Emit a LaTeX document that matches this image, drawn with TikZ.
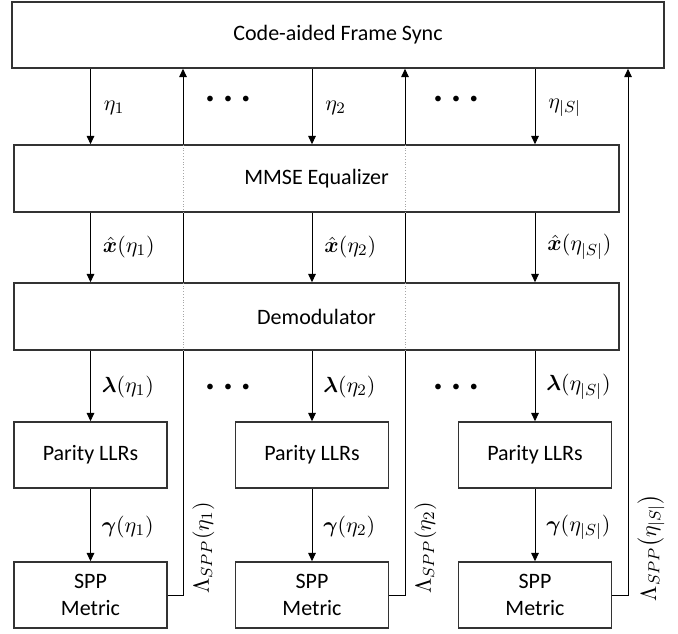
\documentclass[tikz,border=0pt]{standalone}
\usepackage{amsmath,bm}
\usepackage{fontspec}
\setmainfont{Carlito}
\usetikzlibrary{arrows.meta}
\begin{document}
\begin{tikzpicture}[x=0.5pt,y=-0.5pt,
  font=\fontsize{11}{13.5}\selectfont,
  box/.style={draw=black!80, line width=0.75pt, inner sep=0pt, align=center},
  wide/.style={box, minimum width=302.5pt, minimum height=33.5pt},
  small/.style={box, minimum width=76.5pt, minimum height=33pt},
  arr/.style={-{Triangle[length=4.2pt,width=3.8pt]}, line width=0.5pt},
  wire/.style={line width=0.5pt},
  hidden/.style={draw=black!35, densely dotted, line width=0.4pt},
  lab/.style={anchor=west, inner sep=0pt},
  rlab/.style={rotate=90, anchor=north, inner sep=0pt},
  dots/.style={inner sep=0pt, font=\fontsize{8}{8}\selectfont}]
\useasboundingbox (0,0) rectangle (678,633);

% processing blocks
\node[box, minimum width=326pt, minimum height=33pt] (sync) at (338,35) {Code-aided Frame Sync};
\node[wide] (mmse)  at (316.5,178.5) {MMSE Equalizer};
\node[wide] (demod) at (316.5,316.5) {Demodulator};
\foreach \n/\x in {A/90.5, B/312, C/535} {
  \node[small] (par\n) at (\x,455) {Parity LLRs};
  \node[small] (spp\n) at (\x,595) {SPP\\Metric};
}

% columns of the feedback paths
\coordinate (upA) at (183,0);
\coordinate (upB) at (405,0);
\coordinate (upC) at (628,0);

% forward paths, one per candidate
\foreach \n in {A,B,C} {
  \draw[arr] (sync.south -| par\n) -- (mmse.north -| par\n);
  \draw[arr] (mmse.south -| par\n) -- (demod.north -| par\n);
  \draw[arr] (demod.south -| par\n) -- (par\n.north);
  \draw[arr] (par\n.south) -- (spp\n.north);
}

% metrics fed back to the frame sync
\foreach \n in {A,B} {
  \draw[wire] (spp\n.east) -| (demod.south -| up\n);
  \draw[hidden] (demod.south -| up\n) -- (demod.north -| up\n);
  \draw[wire] (demod.north -| up\n) -- (mmse.south -| up\n);
  \draw[hidden] (mmse.south -| up\n) -- (mmse.north -| up\n);
  \draw[arr] (mmse.north -| up\n) -- (sync.south -| up\n);
}
\draw[arr] (sppC.east) -| (sync.south -| upC);

% labels
\node[lab] (e1) at (103.5,108) {$\eta_1$};
\node[lab] (e2) at (325,108) {$\eta_2$};
\node[lab] (e3) at (548,108) {$\eta_{|S|}$};

\node[lab] (x1) at (102.5,247) {$\hat{\bm{x}}(\eta_1)$};
\node[lab] (x2) at (324,247) {$\hat{\bm{x}}(\eta_2)$};
\node[lab] (x3) at (547,247) {$\hat{\bm{x}}(\eta_{|S|})$};

\node[lab] (l1) at (101.5,387) {$\bm{\lambda}(\eta_1)$};
\node[lab] (l2) at (323,387) {$\bm{\lambda}(\eta_2)$};
\node[lab] (l3) at (546,387) {$\bm{\lambda}(\eta_{|S|})$};

\node[lab] (g1) at (101.5,527) {$\bm{\gamma}(\eta_1)$};
\node[lab] (g2) at (323,527) {$\bm{\gamma}(\eta_2)$};
\node[lab] (g3) at (546,527) {$\bm{\gamma}(\eta_{|S|})$};

\node[rlab] (m1) at (192,548) {$\Lambda_{SPP}(\eta_1)$};
\node[rlab] (m2) at (414,548) {$\Lambda_{SPP}(\eta_2)$};
\node[rlab] (m3) at (637,548) {$\Lambda_{SPP}\bigl(\eta_{|S|}\bigr)$};

% ellipses between candidates
\foreach \y/\r in {100/a, 388/b} {
  \node[dots] (da\r) at (228,\y) {\textbullet\hspace{5pt}\textbullet\hspace{5pt}\textbullet};
  \node[dots] (db\r) at (456,\y) {\textbullet\hspace{5pt}\textbullet\hspace{5pt}\textbullet};
}
\end{tikzpicture}
\end{document}
